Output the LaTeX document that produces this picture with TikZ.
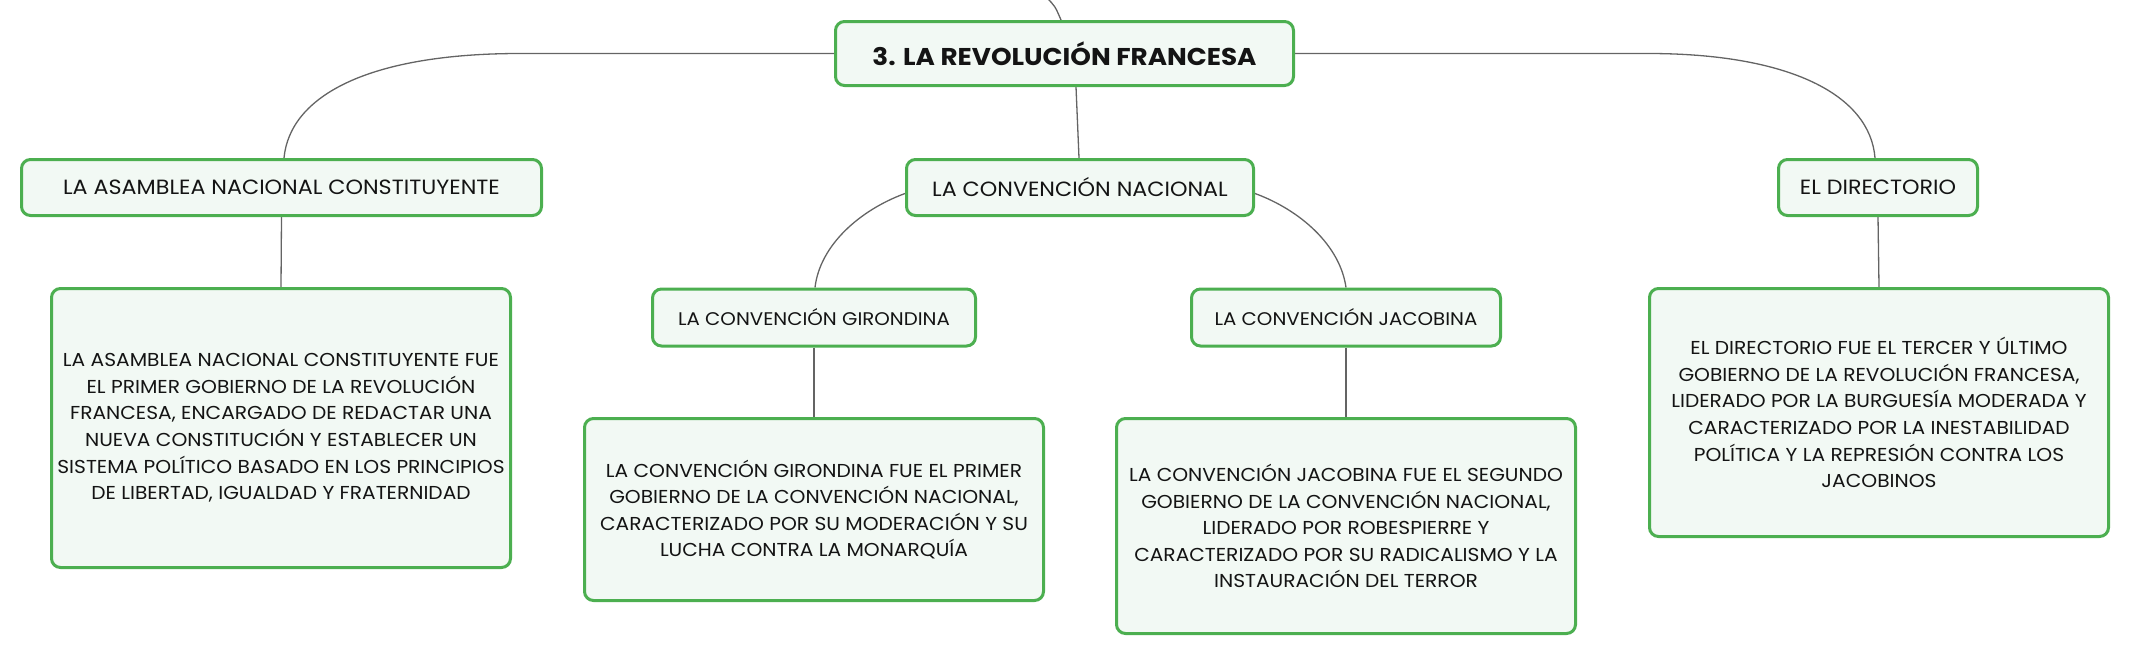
\documentclass[tikz,border=0pt]{standalone}
\usepackage{fontspec}
\setmainfont{Poppins}[FakeStretch=1.08]
\usetikzlibrary{backgrounds}
\definecolor{boxgreen}{RGB}{76,175,80}
\definecolor{boxfill}{RGB}{242,249,244}
\definecolor{linegray}{RGB}{100,100,100}
\definecolor{textdark}{RGB}{20,20,20}
\tikzset{
  box/.style={draw=boxgreen, fill=boxfill, line width=3pt, rounded corners=9pt,
    inner sep=0pt, align=center, text=textdark},
  conn/.style={draw=linegray, line width=1.3pt},
  titlefont/.style={font=\fontsize{24.3}{30}\selectfont\bfseries},
  headfont/.style={font=\fontsize{20.6}{24}\selectfont},
  subfont/.style={font=\fontsize{18.3}{22}\selectfont},
  descfont/.style={font=\fontsize{18.7}{26.6}\selectfont}
}
\begin{document}
\begin{tikzpicture}[x=1pt,y=-1pt]
\useasboundingbox (0,0) rectangle (2130,656);
\node[box,titlefont,minimum width=458pt,minimum height=64pt] (title) at (1064.5,53.5) {3. LA REVOLUCIÓN FRANCESA};
\node[box,headfont,minimum width=520pt,minimum height=56pt] (asam) at (281.5,187.5) {LA ASAMBLEA NACIONAL CONSTITUYENTE};
\node[box,headfont,minimum width=347pt,minimum height=56pt] (conv) at (1080,187.5) {LA CONVENCIÓN NACIONAL};
\node[box,headfont,minimum width=199pt,minimum height=56pt] (dir) at (1878,187.5) {EL DIRECTORIO};
\node[box,subfont,minimum width=323pt,minimum height=57pt] (gir) at (814,317.5) {LA CONVENCIÓN GIRONDINA};
\node[box,subfont,minimum width=309pt,minimum height=57pt] (jac) at (1346,317.5) {LA CONVENCIÓN JACOBINA};
\node[box,descfont,minimum width=459pt,minimum height=279pt] (asamD) at (281,428) {LA ASAMBLEA NACIONAL CONSTITUYENTE FUE\\EL PRIMER GOBIERNO DE LA REVOLUCIÓN\\FRANCESA, ENCARGADO DE REDACTAR UNA\\NUEVA CONSTITUCIÓN Y ESTABLECER UN\\SISTEMA POLÍTICO BASADO EN LOS PRINCIPIOS\\DE LIBERTAD, IGUALDAD Y FRATERNIDAD};
\node[box,descfont,minimum width=459pt,minimum height=182pt] (girD) at (814,509.5) {LA CONVENCIÓN GIRONDINA FUE EL PRIMER\\GOBIERNO DE LA CONVENCIÓN NACIONAL,\\CARACTERIZADO POR SU MODERACIÓN Y SU\\LUCHA CONTRA LA MONARQUÍA};
\node[box,descfont,minimum width=459pt,minimum height=215pt] (jacD) at (1346,526) {LA CONVENCIÓN JACOBINA FUE EL SEGUNDO\\GOBIERNO DE LA CONVENCIÓN NACIONAL,\\LIDERADO POR ROBESPIERRE Y\\CARACTERIZADO POR SU RADICALISMO Y LA\\INSTAURACIÓN DEL TERROR};
\node[box,descfont,minimum width=459pt,minimum height=248pt] (dirD) at (1879,412.5) {EL DIRECTORIO FUE EL TERCER Y ÚLTIMO\\GOBIERNO DE LA REVOLUCIÓN FRANCESA,\\LIDERADO POR LA BURGUESÍA MODERADA Y\\CARACTERIZADO POR LA INESTABILIDAD\\POLÍTICA Y LA REPRESIÓN CONTRA LOS\\JACOBINOS};
\coordinate (top) at (1046,-3);
\begin{pgfonlayer}{background}
\draw[conn] (top) .. controls (1055,6) .. ([xshift=-3.5pt]title.north);
\draw[conn] (title.west) -- (520,53.5) .. controls (370,53.5) and (290,95) .. ([xshift=2.5pt]asam.north);
\draw[conn] (title.east) -- (1648,53.5) .. controls (1790,53.5) and (1870,95) .. ([xshift=-3pt]dir.north);
\draw[conn] ([xshift=11.5pt]title.south) -- ([xshift=-1pt]conv.north);
\draw[conn] ([yshift=-6pt]conv.west) .. controls (860,210) and (820,245) .. ([xshift=1pt]gir.north);
\draw[conn] ([yshift=-6pt]conv.east) .. controls (1300,210) and (1340,245) .. (jac.north);
\draw[conn] (asam.south) -- (asamD.north);
\draw[conn] (gir.south) -- (girD.north);
\draw[conn] (jac.south) -- (jacD.north);
\draw[conn] (dir.south) -- (dirD.north);
\end{pgfonlayer}
\end{tikzpicture}
\end{document}
